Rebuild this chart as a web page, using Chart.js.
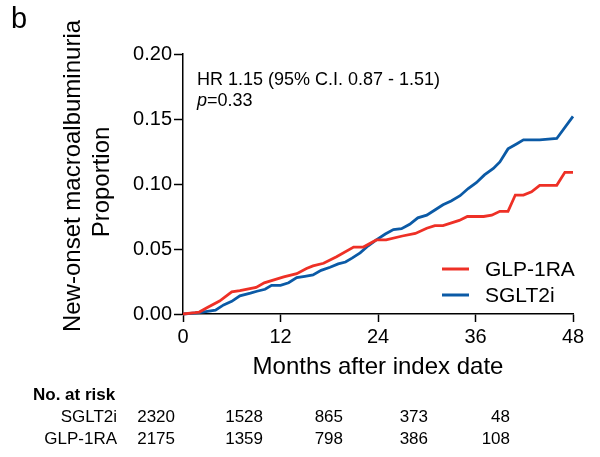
<!DOCTYPE html>
<html>
<head>
<meta charset="utf-8">
<script src="https://cdn.jsdelivr.net/npm/chart.js@4"></script>
<style>
  html, body { margin: 0; padding: 0; background: #fff; }
  #wrap { position: relative; width: 600px; height: 457px; }
</style>
</head>
<body>
<div id="wrap"><canvas id="km" width="600" height="457"></canvas></div>
<script>
// ── data ─────────────────────────────────────────────
var xTicks = [0, 12, 24, 36, 48];
var yTicks = [0, 0.05, 0.10, 0.15, 0.20];

var glpMonths = [0, 1.5, 2, 3, 4.5, 6, 7, 9, 10, 12.4, 14, 15.2, 16, 17.3, 18.9, 21, 22.2, 23.8, 25, 27, 28.6, 30, 31, 32, 34, 35, 37, 38, 39, 40, 40.9, 41.9, 42.9, 43.9, 46, 47, 48];
var glpValues = [0, 0.001, 0.0015, 0.005, 0.010, 0.017, 0.018, 0.0205, 0.024, 0.0285, 0.031, 0.035, 0.037, 0.039, 0.044, 0.0515, 0.0515, 0.057, 0.057, 0.060, 0.062, 0.066, 0.068, 0.068, 0.072, 0.075, 0.075, 0.076, 0.079, 0.079, 0.0915, 0.0915, 0.094, 0.099, 0.099, 0.109, 0.109];

var sgltMonths = [0, 2, 4, 5, 6, 7, 8.3, 9.1, 10.1, 10.9, 12, 13, 14, 15, 16, 17, 18.1, 19.1, 20, 20.8, 21.8, 22.8, 23.8, 24.9, 25.9, 26.9, 27.9, 28.9, 30, 31, 32, 33, 34.1, 35.1, 36.1, 37.1, 38.2, 39, 40, 41.1, 41.9, 43.9, 46, 48];
var sgltValues = [0, 0.001, 0.003, 0.007, 0.0097, 0.014, 0.016, 0.0175, 0.019, 0.022, 0.022, 0.024, 0.028, 0.029, 0.030, 0.0336, 0.036, 0.0385, 0.040, 0.043, 0.047, 0.0525, 0.057, 0.0615, 0.065, 0.0656, 0.069, 0.074, 0.076, 0.080, 0.084, 0.087, 0.091, 0.0965, 0.101, 0.107, 0.112, 0.117, 0.127, 0.131, 0.134, 0.134, 0.135, 0.152];

var groups = ["SGLT2i", "GLP-1RA"];
var atRiskSglt = [2320, 1528, 865, 373, 48];
var atRiskGlp  = [2175, 1359, 798, 386, 108];

var RED = "#ee3026", BLUE = "#0b5aa6";
var FONT = "Liberation Sans, Arial, sans-serif";

function pts(xs, ys) {
  return xs.map(function(x, i) { return { x: x, y: ys[i] }; });
}

// ── extra text: panel letter, titles, HR, legend, risk table ──
var decor = {
  id: "decor",
  afterDraw: function(chart) {
    var c = chart.ctx, a = chart.chartArea;
    c.save();
    c.fillStyle = "#000";

    c.font = "29px " + FONT;
    c.textAlign = "left"; c.textBaseline = "alphabetic";
    c.fillText("b", 11, 28);

    // y title (two lines)
    c.save();
    c.translate(73, (a.top + a.bottom) / 2 - 8);
    c.rotate(-Math.PI / 2);
    c.font = "24px " + FONT;
    c.textAlign = "center"; c.textBaseline = "middle";
    c.fillText("New-onset macroalbuminuria", 0, 0);
    c.restore();
    c.save();
    c.translate(102, (a.top + a.bottom) / 2 - 2);
    c.rotate(-Math.PI / 2);
    c.font = "24px " + FONT;
    c.textAlign = "center"; c.textBaseline = "middle";
    c.fillText("Proportion", 0, 0);
    c.restore();

    // x title
    c.font = "24px " + FONT;
    c.textAlign = "center"; c.textBaseline = "middle";
    c.fillText("Months after index date", 378, 367);

    // HR text
    c.font = "18px " + FONT;
    c.textAlign = "left"; c.textBaseline = "middle";
    c.fillText("HR 1.15 (95% C.I. 0.87 - 1.51)", 197, 80);
    c.font = "italic 18px " + FONT;
    c.fillText("p", 197, 101);
    var pw = c.measureText("p").width;
    c.font = "18px " + FONT;
    c.fillText("=0.33", 197 + pw, 101);

    // legend
    var ds = chart.data.datasets;
    [269, 295].forEach(function(y, i) {
      c.strokeStyle = ds[i].borderColor;
      c.lineWidth = 3;
      c.beginPath(); c.moveTo(442, y); c.lineTo(469, y); c.stroke();
      c.font = "21px " + FONT;
      c.textAlign = "left"; c.textBaseline = "middle";
      c.fillStyle = "#000";
      c.fillText(ds[i].label, 485, y + 1);
    });

    // number at risk
    c.font = "bold 17px " + FONT;
    c.textAlign = "left"; c.textBaseline = "middle";
    c.fillText("No. at risk", 33, 395);
    c.font = "17px " + FONT;
    c.textAlign = "right";
    var cols = [175, 263, 343, 428, 510];
    [atRiskSglt, atRiskGlp].forEach(function(row, r) {
      var y = r === 0 ? 417 : 439;
      c.fillText(groups[r], 117, y);
      row.forEach(function(v, j) { c.fillText(String(v), cols[j], y); });
    });
    c.restore();
  }
};

new Chart(document.getElementById("km").getContext("2d"), {
  type: "line",
  data: {
    datasets: [
      {
        label: "GLP-1RA", data: pts(glpMonths, glpValues),
        borderColor: RED, borderWidth: 2.8, pointRadius: 0, tension: 0, clip: false
      },
      {
        label: "SGLT2i", data: pts(sgltMonths, sgltValues),
        borderColor: BLUE, borderWidth: 2.8, pointRadius: 0, tension: 0, clip: false
      }
    ]
  },
  options: {
    responsive: false, animation: false,
    layout: { padding: { top: 54, right: 27, left: 0, bottom: 0 } },
    plugins: { legend: { display: false }, tooltip: { enabled: false } },
    scales: {
      x: {
        type: "linear", min: 0, max: 48,
        afterBuildTicks: function(s) { s.ticks = xTicks.map(function(v) { return { value: v }; }); },
        afterFit: function(s) { s.height = 143; },
        border: { display: true, color: "#000", width: 1.5 },
        grid: { drawOnChartArea: false, drawTicks: true, tickLength: 8, tickColor: "#000", tickWidth: 1.5 },
        ticks: { color: "#000", font: { family: FONT, size: 20 }, padding: 3, maxRotation: 0 }
      },
      y: {
        min: 0, max: 0.2,
        afterBuildTicks: function(s) { s.ticks = yTicks.map(function(v) { return { value: v }; }); },
        afterFit: function(s) { s.width = 183; },
        border: { display: true, color: "#000", width: 1.5 },
        grid: { drawOnChartArea: false, drawTicks: true, tickLength: 9, tickColor: "#000", tickWidth: 1.5 },
        ticks: {
          color: "#000", font: { family: FONT, size: 20 }, padding: 2,
          callback: function(v) { return v.toFixed(2); }
        }
      }
    }
  },
  plugins: [decor]
});
</script>
</body>
</html>
